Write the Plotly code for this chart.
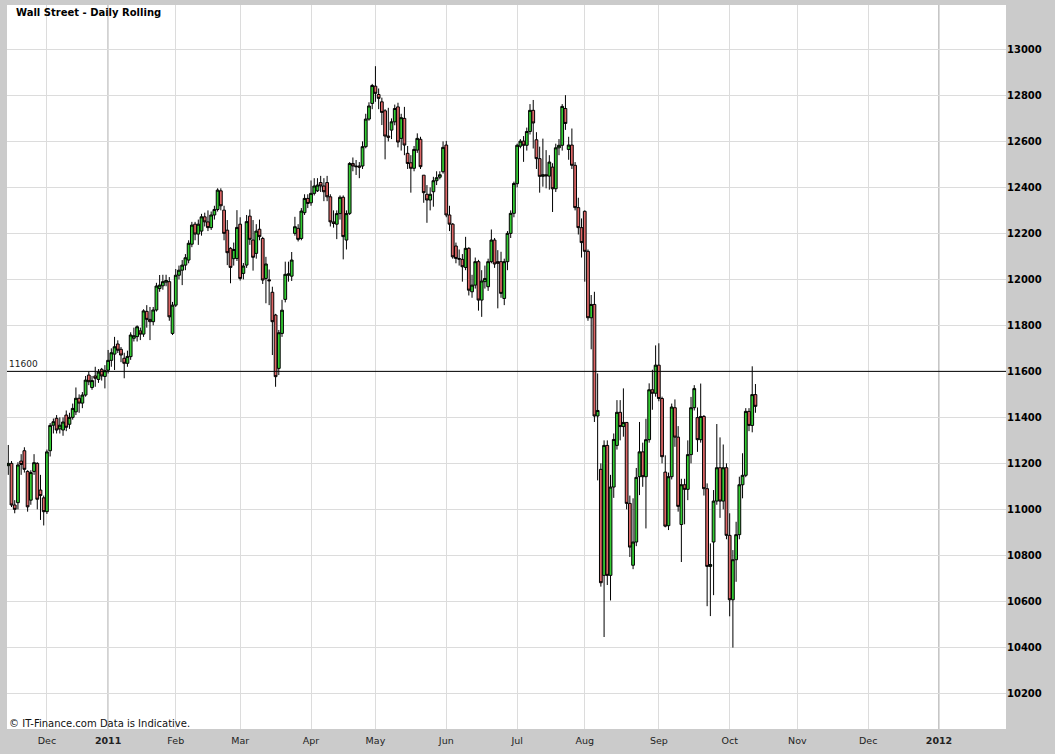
import pandas as pd
import plotly.graph_objects as go

# Wall Street (Dow CFD) daily candles, 15 Nov 2010 - 13 Oct 2011
opens = [
    # Nov 2010
    11190, 11200, 11019, 11029, 11210, 11255, 11165, 11040, 11165, 11200, 11084, 11050,
    # Dec
    10990, 11255, 11366, 11396, 11350, 11345, 11410, 11370, 11400, 11424, 11483, 11462,
    11497, 11584, 11530, 11580, 11565, 11609, 11578,
    # Jan 2011
    11605, 11648, 11675, 11719, 11696, 11657, 11635, 11664, 11744, 11751, 11776, 11762,
    11861, 11826, 11816, 11867, 11960, 11972, 11988, 11990, 11765,
    # Feb
    11888, 12018, 12040, 12062, 12084, 12153, 12240, 12197, 12210, 12272, 12250, 12225,
    12280, 12304, 12385, 12301, 12214, 12135, 12090, 12091,
    # Mar
    12240, 12026, 12062, 12275, 12171, 12113, 12218, 12178, 12004, 11998, 11944, 11845,
    11613, 11765, 11913, 12018, 12014, 12200, 12222, 12178, 12290, 12352,
    # Apr
    12333, 12374, 12385, 12421, 12406, 12421, 12359, 12250, 12240, 12286, 12357, 12171,
    12287, 12504, 12493, 12493, 12493, 12577, 12697, 12765,
    # May
    12840, 12804, 12772, 12733, 12623, 12649, 12685, 12750, 12613, 12700, 12548, 12507,
    12483, 12562, 12609, 12453, 12370, 12345, 12381, 12429, 12444, 12468,
    # Jun
    12584, 12280, 12240, 12145, 12091, 12087, 12052, 12135, 11946, 11975, 12077, 11910,
    11990, 11968, 12077, 12171, 12077, 12077, 11917, 12077, 12200, 12287,
    # Jul
    12416, 12579, 12601, 12583, 12643, 12735, 12607, 12525, 12448, 12455, 12449, 12488,
    12394, 12572, 12583, 12743, 12565, 12584, 12496, 12312, 12225,
    # Aug
    12296, 12122, 11833, 11891, 11406, 11174, 10713, 11278, 10713, 11097, 11278, 11422,
    11360, 11378, 11026, 10757, 10858, 11142, 11250, 11142, 11303, 11520, 11505,
    # Sep
    11627, 11482, 11162, 10929, 11142, 11442, 11314, 10934, 11107, 11087, 11238, 11442,
    11399, 11303, 11404, 11090, 10752, 10858, 11036, 11181, 11036, 11181,
    # Oct
    10887, 10607, 10781, 10890, 11107, 11148, 11426, 11365, 11499,
]
highs = [
    11280, 11210, 11040, 11205, 11240, 11270, 11170, 11170, 11240, 11205, 11150, 11060,
    11260, 11375, 11395, 11410, 11400, 11400, 11430, 11420, 11460, 11530, 11500, 11510,
    11580, 11600, 11580, 11620, 11610, 11615, 11627,
    11693, 11700, 11750, 11735, 11706, 11681, 11690, 11770, 11790, 11800, 11790, 11870,
    11888, 11880, 11880, 11985, 12019, 12020, 12020, 12010, 11902,
    12045, 12060, 12084, 12110, 12170, 12250, 12250, 12260, 12285, 12290, 12300, 12295,
    12320, 12396, 12396, 12320, 12258, 12140, 12160, 12301,
    12270, 12071, 12280, 12304, 12258, 12240, 12260, 12185, 12098, 12043, 11968, 11850,
    11780, 11911, 12077, 12077, 12119, 12272, 12240, 12310, 12370, 12370,
    12430, 12440, 12440, 12450, 12440, 12450, 12370, 12300, 12300, 12365, 12365, 12300,
    12510, 12530, 12519, 12510, 12600, 12720, 12770, 12850,
    12927, 12830, 12790, 12740, 12746, 12700, 12760, 12768, 12720, 12750, 12580, 12540,
    12580, 12635, 12620, 12453, 12410, 12400, 12446, 12470, 12470, 12600,
    12602, 12320, 12245, 12160, 12130, 12110, 12185, 12140, 12020, 12095, 12085, 12040,
    12060, 12090, 12217, 12180, 12127, 12120, 12090, 12210, 12300, 12425,
    12590, 12610, 12623, 12660, 12762, 12780, 12640, 12577, 12612, 12562, 12540, 12505,
    12590, 12610, 12762, 12801, 12620, 12656, 12510, 12355, 12265,
    12300, 12130, 11932, 11946, 11591, 11200, 11300, 11300, 11150, 11330, 11475, 11475,
    11526, 11378, 11060, 11048, 11180, 11380, 11290, 11394, 11548, 11607, 11713,
    11722, 11490, 11235, 11160, 11460, 11478, 11362, 11133, 11133, 11300, 11489, 11540,
    11443, 11547, 11410, 11113, 10852, 11084, 11371, 11313, 11282, 11200,
    10983, 10823, 10946, 11142, 11244, 11440, 11440, 11622, 11545,
]
lows = [
    11150, 11010, 10983, 11000, 11150, 11160, 10990, 11020, 11150, 11000, 10954, 10930,
    10980, 11230, 11330, 11330, 11330, 11320, 11340, 11350, 11390, 11410, 11420, 11440,
    11490, 11540, 11520, 11533, 11550, 11560, 11526,
    11591, 11620, 11606, 11680, 11640, 11570, 11620, 11650, 11730, 11730, 11736, 11750,
    11790, 11736, 11800, 11860, 11946, 11955, 11970, 11820, 11758,
    11880, 12000, 11975, 12040, 12070, 12140, 12170, 12150, 12190, 12230, 12210, 12215,
    12260, 12295, 12300, 12170, 12062, 11983, 12060, 12080,
    11995, 12000, 12050, 12150, 12038, 12090, 12170, 11980, 11896, 11888, 11671, 11533,
    11584, 11750, 11900, 11990, 11993, 12190, 12165, 12170, 12280, 12310,
    12320, 12365, 12380, 12380, 12340, 12340, 12230, 12225, 12175, 12260, 12087, 12130,
    12280, 12470, 12454, 12440, 12480, 12570, 12690, 12740,
    12772, 12740, 12671, 12522, 12600, 12610, 12670, 12574, 12560, 12540, 12480, 12377,
    12470, 12550, 12480, 12333, 12246, 12300, 12316, 12410, 12435, 12460,
    12270, 12210, 12090, 12070, 12060, 11990, 12040, 11930, 11920, 11960, 11864, 11837,
    11960, 11950, 12070, 12050, 11874, 11920, 11888, 12040, 12180, 12270,
    12400, 12570, 12511, 12560, 12630, 12569, 12480, 12377, 12403, 12396, 12390, 12293,
    12380, 12540, 12560, 12650, 12520, 12480, 12300, 12195, 12095,
    11990, 11820, 11696, 11380, 11126, 10664, 10445, 10671, 10604, 11050, 11260, 11300,
    11316, 11000, 10793, 10740, 10840, 11062, 11098, 10917, 11290, 11433, 11490,
    11470, 11200, 10922, 10910, 11130, 11272, 10990, 10771, 10935, 11040, 11200, 11430,
    11250, 11290, 11060, 10579, 10536, 10627, 11020, 10963, 11000, 10870,
    10535, 10399, 10685, 10870, 11048, 11140, 11340, 11335, 11420,
]
closes = [
    11200, 11019, 11000, 11193, 11195, 11174, 11011, 11160, 11203, 11044, 11060, 10990,
    11250, 11365, 11381, 11345, 11366, 11380, 11357, 11400, 11439, 11483, 11462, 11497,
    11562, 11555, 11560, 11570, 11597, 11580, 11603,
    11648, 11681, 11707, 11692, 11671, 11635, 11665, 11758, 11755, 11794, 11762, 11863,
    11826, 11816, 11867, 11971, 11975, 11990, 11995, 11837, 11888,
    12018, 12040, 12062, 12094, 12157, 12236, 12197, 12240, 12272, 12250, 12225, 12280,
    12304, 12388, 12320, 12200, 12116, 12052, 12130, 12226,
    12004, 12058, 12251, 12174, 12096, 12210, 12186, 11997, 12067, 11994, 11816, 11577,
    11768, 11866, 12022, 12024, 12084, 12229, 12174, 12297, 12352, 12330,
    12374, 12406, 12410, 12406, 12381, 12359, 12250, 12243, 12286, 12357, 12186, 12286,
    12504, 12493, 12490, 12488, 12577, 12697, 12754, 12843,
    12809, 12787, 12726, 12623, 12618, 12685, 12743, 12597, 12703, 12584, 12504, 12483,
    12565, 12613, 12490, 12377, 12345, 12370, 12429, 12442, 12455, 12574,
    12280, 12240, 12098, 12091, 12088, 12055, 12135, 11953, 11975, 12077, 11910, 11993,
    12004, 12077, 12171, 12067, 12070, 11939, 12077, 12200, 12287, 12417,
    12583, 12601, 12583, 12643, 12735, 12680, 12525, 12448, 12455, 12450, 12510, 12394,
    12572, 12583, 12752, 12678, 12584, 12496, 12312, 12225, 12160,
    12122, 11833, 11891, 11406, 11430, 10681, 11278, 10713, 11097, 11304, 11422, 11360,
    11378, 11026, 10836, 10858, 11139, 11250, 11142, 11303, 11520, 11505, 11627,
    11482, 11229, 10927, 11142, 11445, 11314, 11013, 11107, 11087, 11238, 11442, 11525,
    11303, 11404, 11090, 10752, 10760, 11036, 11181, 11036, 11181, 10887,
    10607, 10781, 10890, 11107, 11148, 11426, 11365, 11499, 11448,
]

# trading days on the chart (weekdays, minus a few gaps in the feed)
missing_days = ["2010-12-24", "2010-12-27", "2010-12-28", "2010-12-31",
                "2011-03-24", "2011-04-11"]
month_names = ["Jan", "Feb", "Mar", "Apr", "May", "Jun",
               "Jul", "Aug", "Sep", "Oct", "Nov", "Dec"]
y_ticks = list(range(10200, 13001, 200))
level = 11600

days = pd.bdate_range("2010-11-15", "2012-02-15")
days = days[~days.isin(pd.to_datetime(missing_days))]
slot = pd.Series(range(len(days)), index=days)
n = len(closes)

# first slot of every month -> tick positions
firsts = slot.groupby([days.year, days.month]).min()
tick_vals, tick_text, year_slots = [], [], []
for (yr, mo), pos in firsts.items():
    if (yr, mo) < (2010, 12) or (yr, mo) > (2012, 1):
        continue
    tick_vals.append(pos)
    if mo == 1:
        tick_text.append(f"<b>{yr}</b>")
        year_slots.append(pos)
    else:
        tick_text.append(month_names[mo - 1])

fig = go.Figure(go.Candlestick(
    x=list(range(n)),
    open=opens, high=highs, low=lows, close=closes,
    increasing=dict(line=dict(color="black", width=1), fillcolor="#33cc33"),
    decreasing=dict(line=dict(color="black", width=1), fillcolor="#dd6666"),
    hoverinfo="skip",
    showlegend=False,
))

shapes = [dict(type="line", xref="x", yref="paper", x0=s, x1=s, y0=0, y1=1,
               line=dict(color="#8c8c8c", width=1), layer="below")
          for s in year_slots]
shapes.append(dict(type="line", xref="paper", yref="y", x0=0, x1=1, y0=level, y1=level,
                   line=dict(color="black", width=1)))

fig.update_layout(
    width=1055, height=754,
    margin=dict(l=7, r=49, t=5, b=25),
    paper_bgcolor="#cbcbcb",
    plot_bgcolor="white",
    font=dict(family="DejaVu Sans, Verdana, sans-serif", size=10, color="black"),
    boxgap=0.1, boxgroupgap=0.05,
    xaxis=dict(
        range=[-0.4, 309.8],
        tickmode="array", tickvals=tick_vals, ticktext=tick_text,
        showgrid=True, gridcolor="#dcdcdc", gridwidth=1,
        zeroline=False, showline=False, ticks="",
        ticklabelstandoff=4,
        rangeslider=dict(visible=False),
        tickfont=dict(size=9.5, color="#222222"),
    ),
    yaxis=dict(
        side="right",
        range=[10045, 13193],
        tickmode="array", tickvals=y_ticks, ticktext=[str(v) for v in y_ticks],
        showgrid=True, gridcolor="#dcdcdc", gridwidth=1,
        zeroline=False, showline=False, ticks="",
        tickfont=dict(size=10, color="black", weight="bold"),
    ),
    shapes=shapes,
    annotations=[
        dict(text="<b>Wall Street - Daily Rolling</b>", xref="paper", yref="paper",
             x=0.007, y=0.989, xanchor="left", yanchor="middle", showarrow=False,
             font=dict(size=10, color="black")),
        dict(text="© IT-Finance.com Data is Indicative.", xref="paper", yref="paper",
             x=0.0, y=0.008, xanchor="left", yanchor="middle", showarrow=False,
             font=dict(size=10, color="#111111")),
        dict(text=str(level), xref="paper", yref="y", x=0.0, y=level,
             xanchor="left", yanchor="bottom", showarrow=False,
             font=dict(size=9, color="#222222")),
    ],
)

fig.write_html("out.html", config=dict(displayModeBar=False),
               post_script="document.body.style.margin='0px';")
